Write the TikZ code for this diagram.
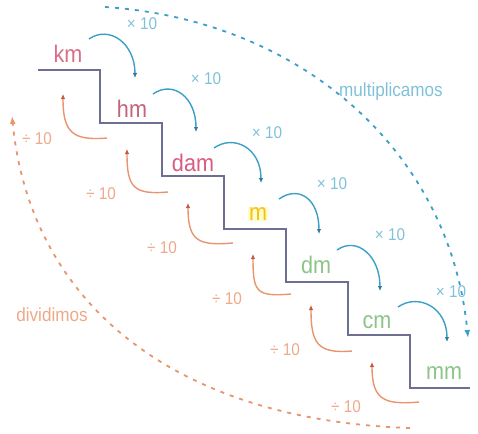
\documentclass[tikz,border=0pt]{standalone}
\usepackage{fontspec}
\setmainfont{Liberation Sans}[FakeStretch=0.9]
\usetikzlibrary{arrows.meta,calc}

\definecolor{stairgray}{HTML}{6C6F92}
\definecolor{mulblue}{HTML}{3C9FC6}
\definecolor{mulbluedk}{HTML}{2A7C9E}
\definecolor{divorange}{HTML}{E8946C}
\definecolor{divred}{HTML}{C4583E}
\definecolor{kmred}{HTML}{D86E88}
\definecolor{damred}{HTML}{DA5A80}
\definecolor{mgold}{HTML}{F2C21A}
\definecolor{dmgreen}{HTML}{8CC488}

\tikzset{
    unit/.style={font=\fontsize{24}{24}\selectfont, inner sep=1pt},
    mularc/.style={mulblue, line width=1.4pt,
        -{Latex[length=5pt,width=4.5pt,color=mulbluedk]}},
    divarc/.style={divorange, line width=1.4pt,
        -{Latex[length=5pt,width=4.5pt,color=divred]}},
    mullabel/.style={text=mulblue!65, font=\fontsize{17}{17}\selectfont},
    divlabel/.style={text=divorange!80, font=\fontsize{17}{17}\selectfont},
    bigarc/.style={line width=1.8pt, dash pattern=on 4pt off 6pt,
        -{Latex[length=8pt,width=6pt]}},
}

\begin{document}
\begin{tikzpicture}[x=1pt,y=-1pt]
\newcommand{\tread}{-| ++(62,53)}
\useasboundingbox (0,0) rectangle (478,433);
% the stair
\draw[stairgray, line width=2.2pt] (38,70)
    \tread \tread \tread \tread \tread \tread -- ++(60,0);
% units on the steps
\node[unit, text=kmred] (km) at (68,54) {km};
\node[unit, text=kmred!90!black] (hm) at (132,109) {hm};
\node[unit, text=damred] (dam) at (193,163) {dam};
\node[unit, text=mgold, fill=yellow!22] (m) at (258,214) {m};
\node[unit, text=dmgreen] (dm) at (316,265) {dm};
\node[unit, text=dmgreen] (cm) at (377,322) {cm};
\node[unit, text=dmgreen] (mm) at (444,373) {mm};
% x 10 and : 10 between neighbours
\foreach \a/\b [count=\i] in {km/hm, hm/dam, dam/m, m/dm, dm/cm, cm/mm} {
    \draw[mularc] ($(\a)+(21,-15)$) .. controls +(20,-14) and +(0,-35)
        .. ($(\b)+(3,-31)$);
    \node[mullabel] (x\i) at ($(\a)+(74,-30)$) {× 10};
    \draw[divarc] ($(\b)+(-25,29)$) .. controls +(-35,3) and +(0,38)
        .. ($(\a)+(-5,40)$);
    \node[divlabel] (d\i) at ($(\a)+(-31,85)$) {÷ 10};
}
% the two long arcs
\coordinate (mulstart) at (105,7);
\coordinate (mulend) at (468,338);
\draw[bigarc, mulblue] (mulstart) .. controls (300,20) and (450,150) .. (mulend);
\node[mullabel, font=\fontsize{19}{19}\selectfont] (mult) at (391,92) {multiplicamos};
\coordinate (divstart) at (410,428);
\coordinate (divend) at (12,116);
\draw[bigarc, divorange] (divstart) .. controls (170,420) and (30,300) .. (divend);
\node[divlabel, font=\fontsize{19}{19}\selectfont] (divi) at (52,315) {dividimos};
\end{tikzpicture}
\end{document}
